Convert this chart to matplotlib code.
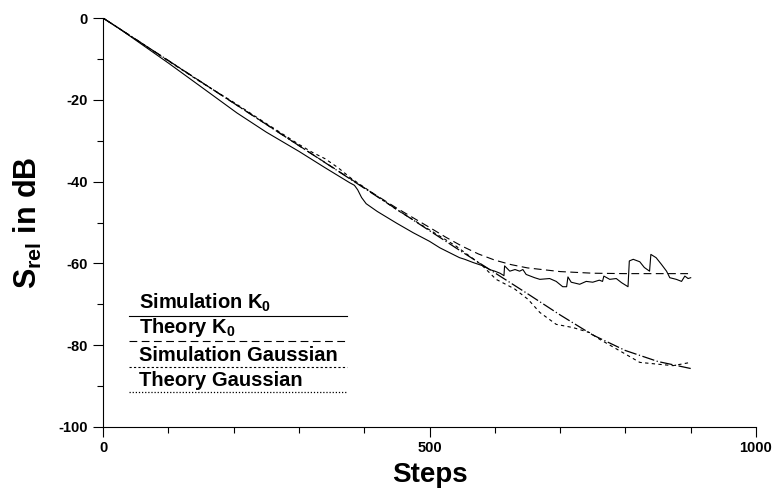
import matplotlib
matplotlib.use("Agg")
import matplotlib.pyplot as plt
from matplotlib.ticker import MultipleLocator

plt.rcParams['font.family'] = ['Liberation Sans', 'DejaVu Sans']
plt.rcParams['mathtext.fontset'] = 'custom'
plt.rcParams['mathtext.rm'] = 'Liberation Sans:bold'
plt.rcParams['mathtext.it'] = 'Liberation Sans:bold'
plt.rcParams['mathtext.bf'] = 'Liberation Sans:bold'
plt.rcParams['axes.unicode_minus'] = False

# ---- data ----
sim_k0_x = [0, 25, 50, 100, 150, 205, 250, 300, 340, 378, 385, 390, 396, 403, 420, 450, 475, 500,
            516, 531, 546, 554, 567, 582, 592, 600, 608, 614, 615, 623, 631, 638, 643, 648, 661,
            669, 684, 694, 704, 710, 712, 717, 730, 740, 750, 760, 765, 767, 776, 786, 794, 804,
            806, 812, 822, 829, 837, 839, 847, 855, 863, 868, 878, 886, 891, 896, 900]
sim_k0_y = [0, -2.6, -5.4, -11.0, -16.8, -23.2, -27.9, -32.6, -36.6, -40.3, -40.9, -42.0, -43.9,
            -45.4, -47.3, -50.2, -52.5, -54.6, -56.2, -57.4, -58.6, -59.0, -59.8, -60.6, -61.5,
            -61.9, -62.4, -63.0, -60.6, -61.9, -61.5, -61.9, -61.5, -62.7, -63.5, -63.9, -63.7,
            -64.4, -65.7, -65.7, -63.3, -64.6, -65.1, -64.4, -64.6, -64.1, -64.4, -63.1, -63.9,
            -63.7, -64.7, -65.7, -59.4, -59.0, -59.6, -61.0, -61.9, -57.8, -58.6, -60.2, -61.9,
            -63.5, -63.9, -64.4, -63.1, -63.7, -63.5]

theory_k0_x = [0, 100, 200, 300, 400, 450, 500, 525, 550, 575, 600, 625, 650, 700, 750, 800, 850, 900]
theory_k0_y = [0, -10.4, -20.8, -31.2, -41.5, -46.5, -51.2, -53.6, -55.8, -57.7, -59.2, -60.3,
               -61.1, -62.0, -62.4, -62.5, -62.5, -62.5]

sim_g_x = [0, 50, 100, 150, 200, 250, 300, 320, 340, 360, 380, 400, 450, 500, 540, 580, 602,
           630, 651, 669, 694, 720, 745, 760, 796, 822, 847, 873, 900]
sim_g_y = [0, -5.2, -10.5, -15.7, -20.6, -25.8, -30.9, -32.8, -34.4, -36.6, -39.2, -41.4, -46.9,
           -51.8, -55.7, -60.4, -63.9, -66.2, -68.8, -72.0, -74.9, -75.7, -76.9, -78.5, -81.8,
           -84.2, -84.6, -85.0, -84.2]

theory_g_x = [0, 100, 200, 300, 400, 500, 550, 600, 650, 700, 750, 800, 850, 900]
theory_g_y = [0, -10.4, -20.8, -31.2, -41.6, -52.0, -57.2, -62.3, -67.4, -72.6, -77.5, -81.3,
              -84.0, -85.7]

legend_labels = ['Simulation $K_0$', 'Theory $K_0$', 'Simulation Gaussian', 'Theory Gaussian']
x_ticks = [0, 500, 1000]
y_ticks = [0, -20, -40, -60, -80, -100]

# ---- figure ----
fig = plt.figure(figsize=(7.75, 4.92), dpi=100)
ax = fig.add_axes([103/775, 1 - 427/492, (756 - 103)/775, (427 - 18)/492])

styles = [
    dict(ls='-', lw=0.8),
    dict(ls=(0, (7, 4)), lw=0.8),
    dict(ls=(0, (3, 3)), lw=0.8),
    dict(ls=(0, (10, 2, 1, 2)), lw=0.9),
]
series = [(sim_k0_x, sim_k0_y), (theory_k0_x, theory_k0_y), (sim_g_x, sim_g_y), (theory_g_x, theory_g_y)]
for (xs, ys), st in zip(series, styles):
    ax.plot(xs, ys, color='black', **st)

# custom legend: text above a line
line_y = [0.271, 0.210, 0.147, 0.086]
leg_styles = [
    dict(ls='-', lw=0.8),
    dict(ls=(0, (7, 4)), lw=0.8),
    dict(ls=(0, (2, 2)), lw=0.8),
    dict(ls=(0, (1, 1.5)), lw=0.9),
]
for lab, ly, st in zip(legend_labels, line_y, leg_styles):
    ax.plot([0.040, 0.374], [ly, ly], transform=ax.transAxes, color='black', **st)
    ax.text(0.055, ly + 0.005, lab, transform=ax.transAxes, fontsize=14.5,
            fontweight='bold', ha='left', va='bottom')

ax.set_xlim(0, 1000)
ax.set_ylim(-100, 0)
ax.set_xticks(x_ticks)
ax.set_yticks(y_ticks)
ax.xaxis.set_minor_locator(MultipleLocator(100))
ax.yaxis.set_minor_locator(MultipleLocator(10))
ax.spines['top'].set_visible(False)
ax.spines['right'].set_visible(False)
for s in ['left', 'bottom']:
    ax.spines[s].set_linewidth(0.8)
ax.tick_params(which='major', length=7, width=0.8, direction='out', labelsize=10.5, pad=4)
ax.tick_params(which='minor', length=4, width=0.8, direction='out')
ax.tick_params(axis='x', which='major', pad=3)
for t in ax.get_xticklabels() + ax.get_yticklabels():
    t.set_fontweight('bold')

ax.set_xlabel('Steps', fontsize=20, fontweight='bold', labelpad=5)
ax.set_ylabel('$S_{rel}$ in dB', fontsize=22, fontweight='bold', labelpad=10)

fig.savefig('out.png', dpi=100)
